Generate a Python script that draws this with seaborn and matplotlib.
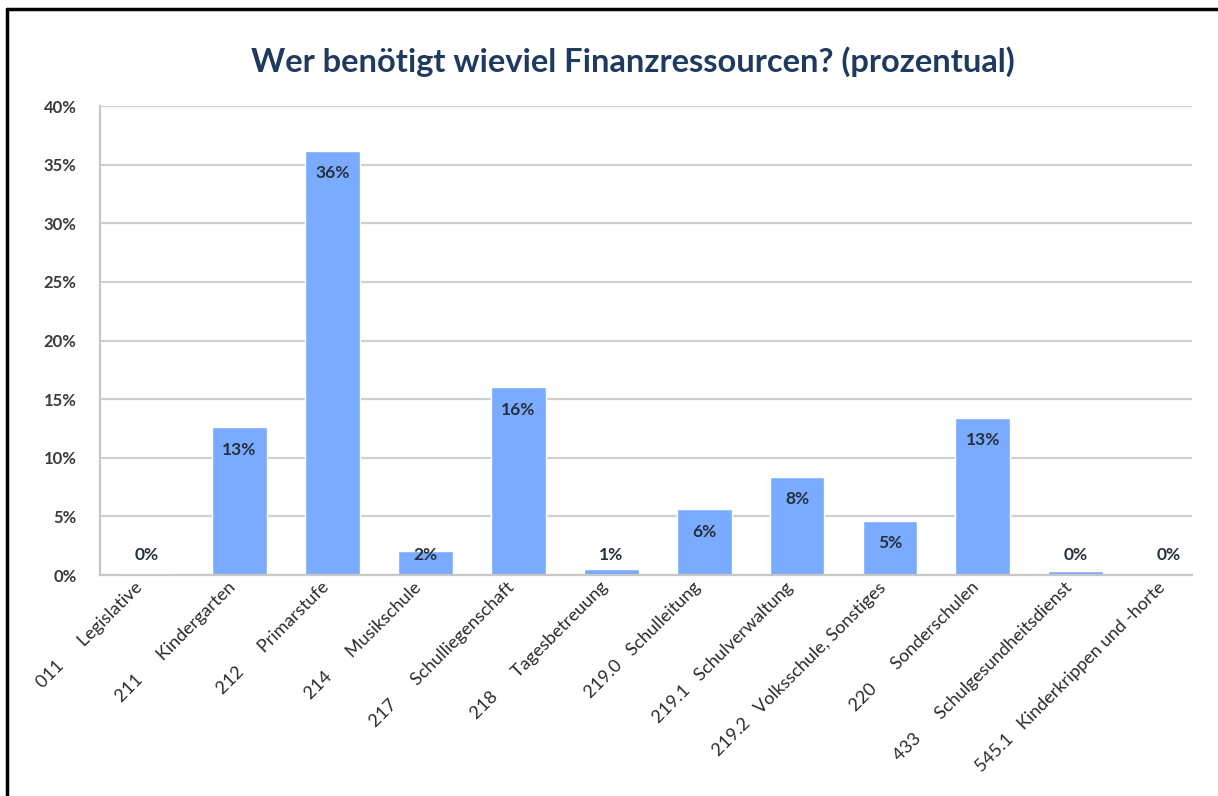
import matplotlib
matplotlib.use("Agg")
import matplotlib.pyplot as plt
from matplotlib.lines import Line2D
from matplotlib.transforms import ScaledTranslation
import seaborn as sns
import pandas as pd

# ----- data -----
codes = ["011", "211", "212", "214", "217", "218",
         "219.0", "219.1", "219.2", "220", "433", "545.1"]
names = ["Legislative", "Kindergarten", "Primarstufe", "Musikschule",
         "Schulliegenschaft", "Tagesbetreuung", "Schulleitung",
         "Schulverwaltung", "Volksschule, Sonstiges", "Sonderschulen",
         "Schulgesundheitsdienst", "Kinderkrippen und -horte"]
shares = [0.2, 12.6, 36.2, 2.05, 16.0, 0.55, 5.6, 8.4, 4.6, 13.4, 0.35, 0.1]
y_ticks = [0, 5, 10, 15, 20, 25, 30, 35, 40]

# code and name separated like a tab stop
labels = [c + " " * (6 if len(c) == 3 else 3) + n for c, n in zip(codes, names)]
df = pd.DataFrame({"label": labels, "share": shares})

sns.set_theme(style="white")
plt.rcParams["font.family"] = ["Lato", "DejaVu Sans"]

fig = plt.figure(figsize=(12.18, 7.96), dpi=100)
# the screenshot cuts the plot area just after the last bar's centre
ax = fig.add_axes([100 / 1218, 0.2776, 1092 / 1218, 0.5892])

sns.barplot(data=df, x="label", y="share", color="#7aabff", saturation=1,
            width=0.59, ax=ax)

ax.set_ylim(0, 40)
ax.set_xlim(-0.5, len(labels) - 0.75)
ax.set_yticks(y_ticks)
ax.set_yticklabels([f"{t}%" for t in y_ticks], fontsize=12, color="#3a3a3a",
                   fontweight="bold")
ax.yaxis.grid(True, color="#cfcfcf", linewidth=1.6)
ax.set_axisbelow(True)
ax.tick_params(axis="y", length=0, pad=17)
ax.tick_params(axis="x", length=0, pad=3)
ax.set_xticks(range(len(labels)))
ax.set_xticklabels(labels, rotation=45, ha="right", rotation_mode="anchor",
                   fontsize=13, color="#2a2a2a")
shift = ScaledTranslation(-0.12, 0, fig.dpi_scale_trans)
for lbl in ax.get_xticklabels():
    lbl.set_transform(lbl.get_transform() + shift)
ax.set_xlabel("")
ax.set_ylabel("")
for side in ["top", "right"]:
    ax.spines[side].set_visible(False)
for side in ["left", "bottom"]:
    ax.spines[side].set_color("#c8c8c8")
    ax.spines[side].set_linewidth(1.6)

# value labels: inside near the top, or just above the base for tiny bars
for i, v in enumerate(shares):
    ypos = max(v - 1.9, 1.7)
    ax.text(i, ypos, f"{v:.0f}%", ha="center", va="center", fontsize=12.5,
            color="#26303c", fontweight="bold")

fig.text(0.52, 0.922, "Wer benötigt wieviel Finanzressourcen? (prozentual)",
         ha="center", va="center", fontsize=23.5, fontweight="bold",
         color="#1f3a5f")

# frame lines (top and left) as in the screenshot
fig.add_artist(Line2D([0.006, 1.0], [0.989, 0.989], color="black",
                      linewidth=2.5, transform=fig.transFigure))
fig.add_artist(Line2D([0.006, 0.006], [0.0, 0.989], color="black",
                      linewidth=2.5, transform=fig.transFigure))

fig.savefig("out.png", dpi=100, facecolor="white")
